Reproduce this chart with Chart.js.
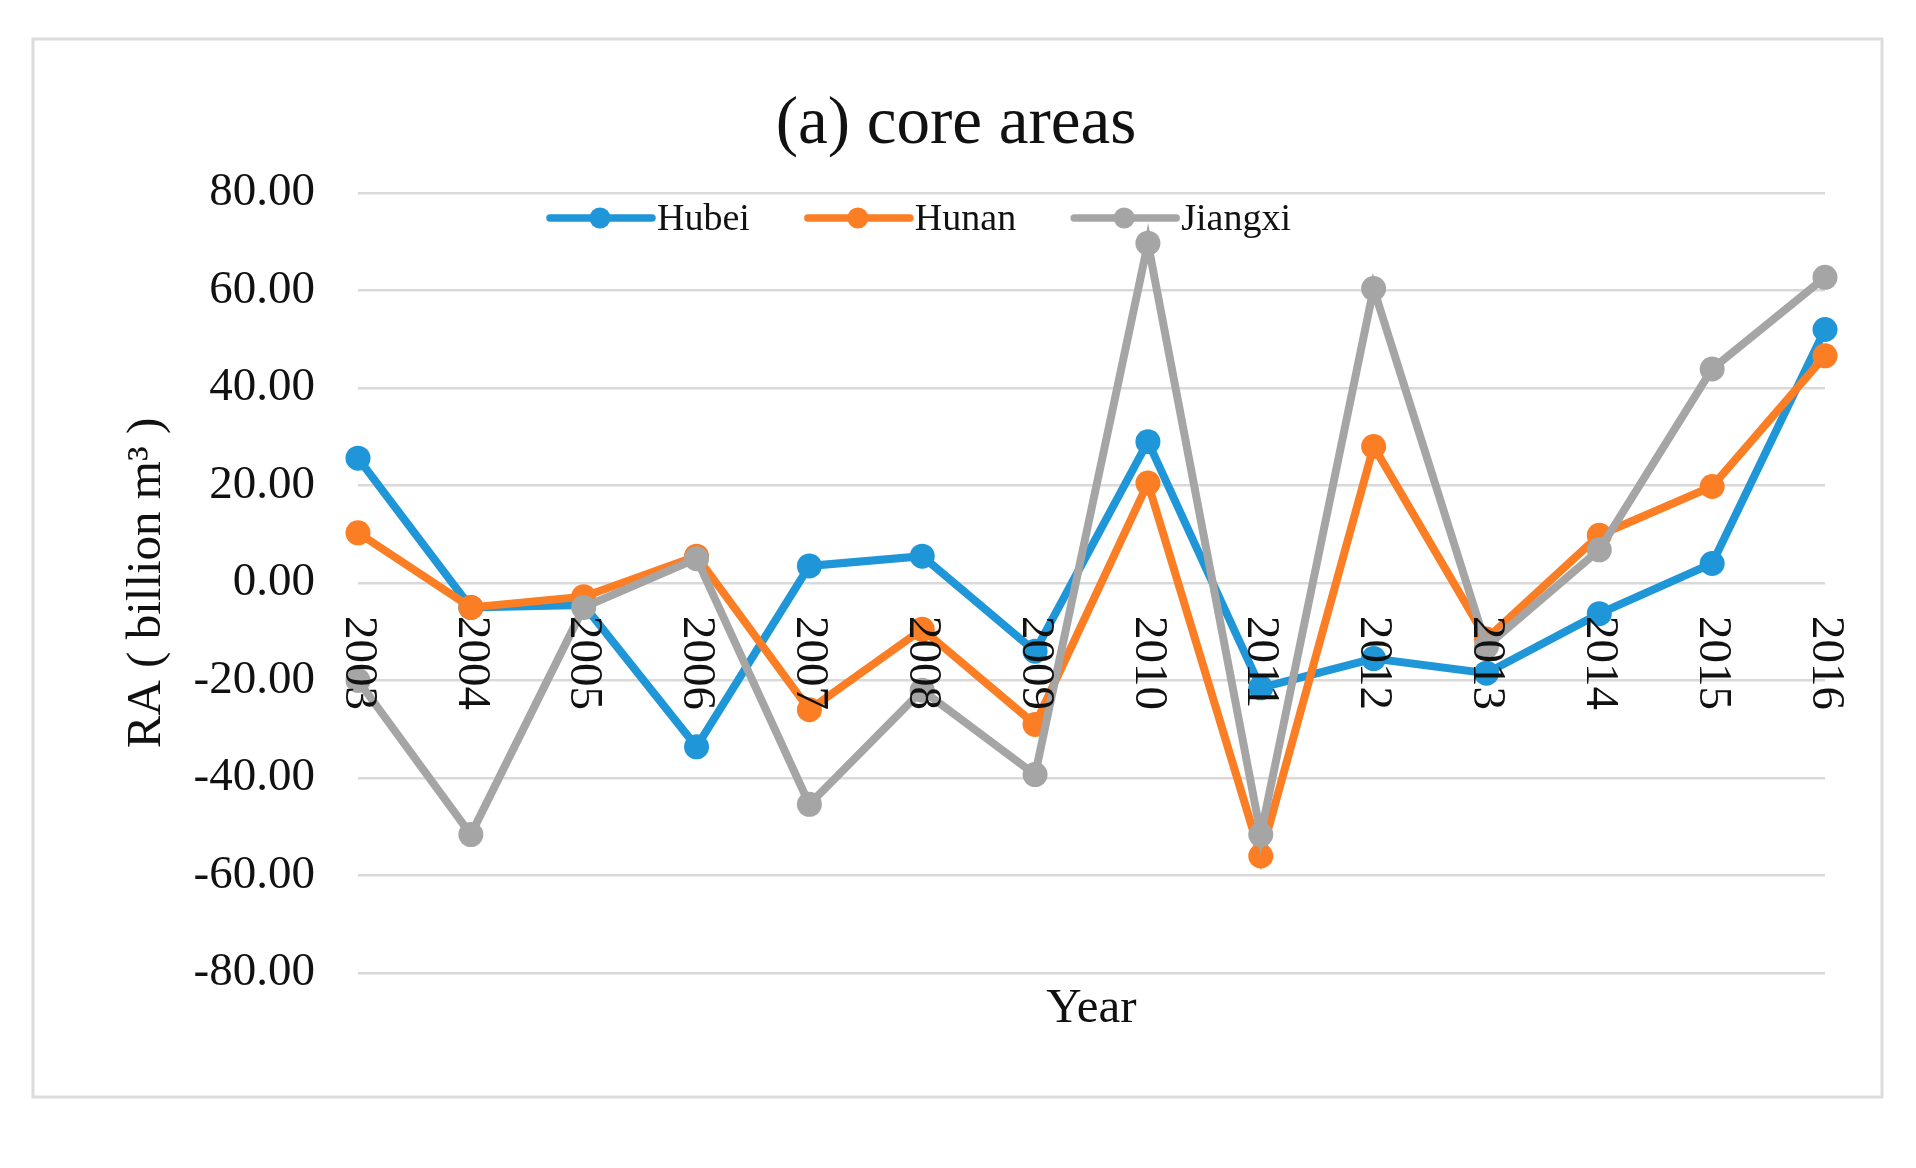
<!DOCTYPE html>
<html>
<head>
<meta charset="utf-8">
<script src="https://cdn.jsdelivr.net/npm/chart.js@4.4.1/dist/chart.umd.min.js"></script>
<style>
  html, body { margin: 0; padding: 0; background: #fff; }
  #wrap { width: 1916px; height: 1168px; }
</style>
</head>
<body>
<div id="wrap"><canvas id="chart"></canvas></div>
<script>
// Values
const years = ['2003', '2004', '2005', '2006', '2007', '2008', '2009', '2010', '2011', '2012', '2013', '2014', '2015', '2016'];
const hubei = [25.6, -5.0, -4.5, -33.6, 3.5, 5.5, -14.0, 29.0, -21.5, -15.5, -18.5, -6.3, 4.0, 52.0];
const hunan = [10.3, -5.0, -2.8, 5.5, -26.0, -9.5, -29.0, 20.5, -56.0, 28.0, -11.5, 9.8, 19.8, 46.6];
const jiangxi = [-20.0, -51.6, -5.0, 5.0, -45.4, -22.0, -39.3, 69.7, -51.6, 60.4, -13.0, 6.8, 43.9, 62.7];
const yMin = -80, yMax = 80, yStep = 20;

const SERIF = "'Liberation Serif', 'Times New Roman', serif";
const BLUE = '#1f96d8', ORANGE = '#fb7d24', GRAY = '#a5a5a5';

// frame, title, rotated year labels and the in-plot legend
const decorPlugin = {
  id: 'decor',
  beforeDraw(chart) {
    const ctx = chart.ctx;
    ctx.save();
    ctx.fillStyle = '#fff';
    ctx.fillRect(0, 0, chart.width, chart.height);
    ctx.strokeStyle = '#dcdcdc';
    ctx.lineWidth = 3;
    ctx.strokeRect(33, 39, 1849, 1058);
    ctx.fillStyle = '#111';
    ctx.font = '67px ' + SERIF;
    ctx.textAlign = 'center';
    ctx.textBaseline = 'alphabetic';
    ctx.fillText('(a) core areas', 956, 143);
    ctx.restore();
  },
  afterDatasetsDraw(chart) {
    const ctx = chart.ctx;
    const xs = chart.scales.x, ys = chart.scales.y;
    const y0 = ys.getPixelForValue(0) + 33;
    ctx.save();
    ctx.fillStyle = '#111';
    ctx.font = '47px ' + SERIF;
    ctx.textAlign = 'left';
    ctx.textBaseline = 'middle';
    years.forEach((yr, i) => {
      ctx.save();
      ctx.translate(xs.getPixelForTick(i), y0);
      ctx.rotate(Math.PI / 2);
      ctx.fillText(yr, 0, 0);
      ctx.restore();
    });

    // legend
    let lx = chart.chartArea.left + 192;
    const ly = 218;
    ctx.font = '38px ' + SERIF;
    ctx.textBaseline = 'middle';
    chart.data.datasets.forEach(ds => {
      ctx.strokeStyle = ds.borderColor;
      ctx.lineWidth = 7.5;
      ctx.lineCap = 'round';
      ctx.beginPath();
      ctx.moveTo(lx, ly);
      ctx.lineTo(lx + 102, ly);
      ctx.stroke();
      ctx.fillStyle = ds.borderColor;
      ctx.beginPath();
      ctx.arc(lx + 50, ly, 10.5, 0, Math.PI * 2);
      ctx.fill();
      ctx.fillStyle = '#111';
      ctx.fillText(ds.label, lx + 107, ly + 2);
      lx += 107 + ctx.measureText(ds.label).width + 58;
    });
    ctx.restore();
  }
};

function series(label, data, color, order) {
  return {
    label, data, order,
    borderColor: color,
    backgroundColor: color,
    borderWidth: 8,
    pointRadius: 12.5,
    pointHoverRadius: 12.5,
    pointBorderWidth: 0,
    tension: 0,
    clip: false
  };
}

new Chart(document.getElementById('chart'), {
  type: 'line',
  data: {
    labels: years,
    datasets: [
      series('Hubei', hubei, BLUE, 3),
      series('Hunan', hunan, ORANGE, 2),
      series('Jiangxi', jiangxi, GRAY, 1)
    ]
  },
  options: {
    responsive: true,
    maintainAspectRatio: false,
    animation: false,
    layout: { padding: { top: 193, right: 91, bottom: 129, left: 0 } },
    plugins: {
      legend: { display: false },
      title: { display: false },
      tooltip: { enabled: false }
    },
    scales: {
      x: {
        offset: false,
        grid: { display: false },
        border: { display: false },
        ticks: { display: false },
        title: {
          display: true,
          text: 'Year',
          color: '#111',
          font: { family: SERIF, size: 49 },
          padding: 0
        },
        afterFit(s) { s.height = 66; }
      },
      y: {
        min: yMin,
        max: yMax,
        ticks: {
          stepSize: yStep,
          color: '#111',
          font: { family: SERIF, size: 47 },
          padding: 43,
          callback: v => v.toFixed(2)
        },
        grid: { color: '#d9d9d9', lineWidth: 2.5, drawTicks: false },
        border: { display: false },
        title: {
          display: true,
          text: 'RA ( billion m³ )',
          color: '#111',
          font: { family: SERIF, size: 49 },
          padding: { top: 118, bottom: 0 }
        },
        afterFit(s) { s.width = 358; }
      }
    }
  },
  plugins: [decorPlugin]
});
</script>
</body>
</html>
